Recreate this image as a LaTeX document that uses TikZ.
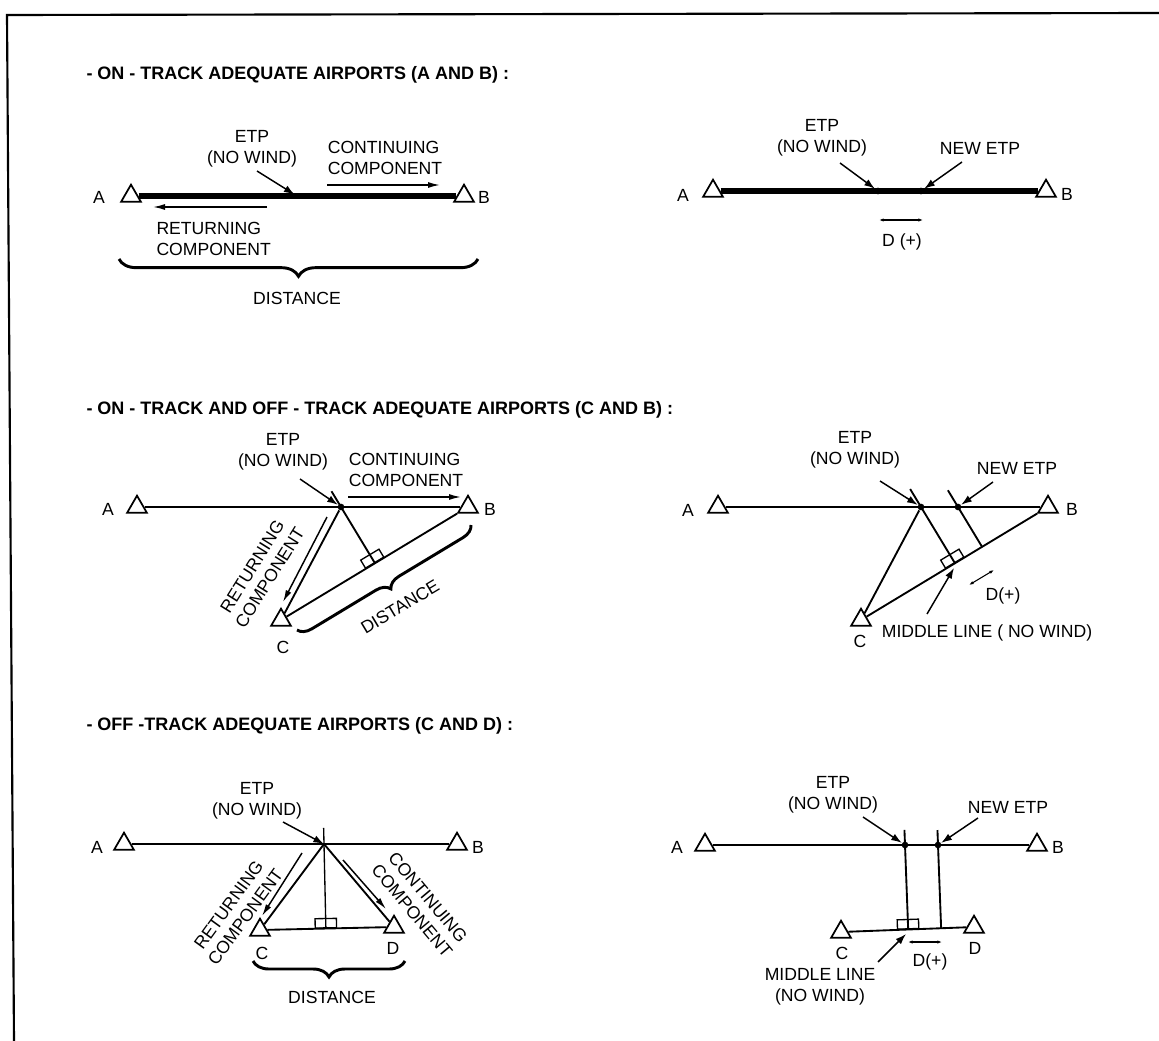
\documentclass[tikz,border=0pt]{standalone}
\usepackage{fontspec}
\setmainfont{Liberation Sans}
\usetikzlibrary{arrows.meta,calc,shapes.geometric,decorations.pathreplacing}

\tikzset{every picture/.style={line width=0.75pt}}
\tikzset{
  airport/.style={draw, regular polygon, regular polygon sides=3, minimum size=17pt, inner sep=0pt, line width=1.3pt},
  lbl/.style={inner sep=0.75pt, font=\fontsize{13.2}{15.5}\selectfont, align=center},
  ttl/.style={anchor=west, inner sep=0.75pt, font=\fontsize{13.5}{16}\selectfont\bfseries},
  pointer/.style={-{Latex[length=8pt,width=5.5pt]}, line width=1.1pt},
  comp/.style={-{Latex[length=9pt,width=4.5pt]}, line width=1.1pt},
  dplus/.style={{Latex[length=3.5pt,width=2.5pt]}-{Latex[length=3.5pt,width=2.5pt]}, line width=0.8pt},
  etpdot/.style={circle, fill, inner sep=0pt, minimum size=5pt},
  rightangle/.style={draw, rectangle, minimum width=16pt, minimum height=7pt, inner sep=0pt, anchor=south, line width=1pt},
  brc/.style={decorate, decoration={brace, amplitude=#1}, line width=2.2pt},
  track/.style={line width=1.8pt},
  leg/.style={line width=1.4pt},
}

\begin{document}
\begin{tikzpicture}[x=0.75pt,y=0.75pt,yscale=-1,xscale=1]
		\useasboundingbox (0,0) rectangle (1159,1041);
		
		%Frame
		\draw [line width=1.6pt] (14,1041) -- (7,15) -- (1159,13) ;
		
		% Text Node
		\node [ttl] (title1) at (85,75) {- ON - TRACK ADEQUATE AIRPORTS (A AND B) :};
		% Text Node
		\node [ttl] (title2) at (85,410) {- ON - TRACK AND OFF - TRACK ADEQUATE AIRPORTS (C AND B) :};
		% Text Node
		\node [ttl] (title3) at (85,726) {- OFF -TRACK ADEQUATE AIRPORTS (C AND D) :};
		
		%%% On-track, no wind
		\node [airport] (A1) at (131,196) {};
		\node [airport] (B1) at (464,196) {};
		\node [lbl] (labA1) at (99,197) {A};
		\node [lbl] (labB1) at (484,197) {B};
		\node [etpdot, minimum size=3.5pt] (E1) at (297,196) {};
		%Straight Lines
		\draw [line width=4.2pt] (A1) -- (B1) ;
		% Text Node
		\node [lbl] (etp1) at (252,149) {ETP\\(NO WIND)};
		\coordinate (p1) at (257,171);
		\draw [pointer] (p1) -- (E1) ;
		% Text Node
		\node [lbl, align=left] (cont1) at (385,158) {CONTINUING\\COMPONENT};
		\coordinate (c1s) at (327,185);
		\coordinate (c1e) at (440,185);
		\draw [comp] (c1s) -- (c1e) ;
		% Text Node
		\node [lbl, align=left, anchor=west] (ret1) at (155,239) {RETURNING\\COMPONENT};
		\coordinate (r1s) at (267,207);
		\coordinate (r1e) at (153,207);
		\draw [comp] (r1s) -- (r1e) ;
		%Brace
		\coordinate (d1s) at (478,259);
		\coordinate (d1e) at (119,259);
		\draw [brc=13pt] (d1s) -- (d1e) ;
		\node [lbl] (dist1) at (297,298) {DISTANCE};
		
		%%% On-track, with wind
		\node [airport] (A2) at (713,191) {};
		\node [airport] (B2) at (1046,191) {};
		\node [lbl] (labA2) at (683,195) {A};
		\node [lbl] (labB2) at (1067,194) {B};
		\node [etpdot] (E2) at (878,191) {};
		\node [etpdot] (N2) at (921,191) {};
		%Straight Lines
		\draw [line width=4.2pt] (A2) -- (B2) ;
		% Text Node
		\node [lbl] (etp2) at (822,138) {ETP\\(NO WIND)};
		\coordinate (p2) at (840,163);
		\draw [pointer] (p2) -- (E2) ;
		% Text Node
		\node [lbl] (netp2) at (980,148) {NEW ETP};
		\coordinate (q2) at (962,162);
		\draw [pointer] (q2) -- (N2) ;
		\coordinate (dp2s) at (879,220);
		\coordinate (dp2e) at (923,220);
		\draw [dplus] (dp2s) -- (dp2e) ;
		\node [lbl] (dplus2) at (902,242) {D (+)};
		
		%%% On- and off-track, no wind
		\node [airport] (A3) at (137,507) {};
		\node [airport] (B3) at (468,507) {};
		\node [airport] (C3) at (281,620) {};
		\node [lbl] (labA3) at (108,509) {A};
		\node [lbl] (labB3) at (490,509) {B};
		\node [lbl] (labC3) at (283,647) {C};
		\node [etpdot] (E3) at (341,507) {};
		%Straight Lines
		\draw [track] (A3) -- (B3) ;
		\draw [leg] (E3) -- (C3) ;
		\draw [leg] (C3) -- (B3) ;
		\coordinate (M3) at ($(C3)!(E3)!(B3)$);
		\draw [leg] ($(E3)!-0.28!(M3)$) -- (M3) ;
		\node [rightangle, rotate=31] (ra3) at (M3) {};
		% Text Node
		\node [lbl] (etp3) at (283,452) {ETP\\(NO WIND)};
		\coordinate (p3) at (300,479);
		\draw [pointer] (p3) -- (E3) ;
		% Text Node
		\node [lbl, align=left] (cont3) at (406,470) {CONTINUING\\COMPONENT};
		\coordinate (c3s) at (348,497);
		\coordinate (c3e) at (461,497);
		\draw [comp] (c3s) -- (c3e) ;
		% Text Node
		\node [lbl, rotate=58] (ret3) at (261,572) {RETURNING\\COMPONENT};
		\coordinate (r3s) at (327,517);
		\coordinate (r3e) at (283,602);
		\draw [comp] (r3s) -- (r3e) ;
		%Brace
		\coordinate (d3s) at (471,525);
		\coordinate (d3e) at (297,630);
		\draw [brc=10pt] (d3s) -- (d3e) ;
		\node [lbl, rotate=31] (dist3) at (400,607) {DISTANCE};
		
		%%% On- and off-track, with wind
		\node [airport] (A4) at (718,507) {};
		\node [airport] (B4) at (1048,507) {};
		\node [airport] (C4) at (861,620) {};
		\node [lbl] (labA4) at (688,510) {A};
		\node [lbl] (labB4) at (1072,509) {B};
		\node [lbl] (labC4) at (860,641) {C};
		\node [etpdot] (E4) at (921,507) {};
		\node [etpdot] (N4) at (958,507) {};
		%Straight Lines
		\draw [track] (A4) -- (B4) ;
		\draw [leg] (E4) -- (C4) ;
		\draw [leg] (C4) -- (B4) ;
		\coordinate (M4) at ($(C4)!(E4)!(B4)$);
		\coordinate (F4) at ($(C4)!(N4)!(B4)$);
		\draw [leg] ($(E4)!-0.32!(M4)$) -- (M4) ;
		\draw [leg] ($(N4)!-0.42!(F4)$) -- (F4) ;
		\node [rightangle, rotate=31] (ra4) at (M4) {};
		% Text Node
		\node [lbl] (etp4) at (855,450) {ETP\\(NO WIND)};
		\coordinate (p4) at (880,481);
		\draw [pointer] (p4) -- (E4) ;
		% Text Node
		\node [lbl] (netp4) at (1017,468) {NEW ETP};
		\coordinate (q4) at (993,482);
		\draw [pointer] (q4) -- (N4) ;
		% Text Node
		\node [lbl] (mid4) at (987,633) {MIDDLE LINE ( NO WIND)};
		\coordinate (m4s) at (927,614);
		\coordinate (m4e) at (954,568);
		\draw [pointer] (m4s) -- (m4e) ;
		\coordinate (dp4s) at (969,585);
		\coordinate (dp4e) at (994,570);
		\draw [dplus] (dp4s) -- (dp4e) ;
		\node [lbl] (dplus4) at (1003,596) {D(+)};
		
		%%% Off-track, no wind
		\node [airport] (A5) at (124,844) {};
		\node [airport] (B5) at (457,844) {};
		\node [airport] (C5) at (260,930) {};
		\node [airport] (D5) at (394,927) {};
		\node [lbl] (labA5) at (97,847) {A};
		\node [lbl] (labB5) at (478,847) {B};
		\node [lbl] (labC5) at (262,953) {C};
		\node [lbl] (labD5) at (393,948) {D};
		\coordinate (E5) at (324,844);
		%Straight Lines
		\draw [track] (A5) -- (B5) ;
		\draw [leg] (E5) -- (C5) ;
		\draw [leg] (E5) -- (D5) ;
		\draw [leg] (C5) -- (D5) ;
		\coordinate (M5) at ($(C5)!(E5)!(D5)$);
		\draw [line width=1pt] ($(E5)!-0.19!(M5)$) -- (M5) ;
		\node [rightangle, rotate=1] (ra5) at (M5) {};
		% Text Node
		\node [lbl] (etp5) at (257,801) {ETP\\(NO WIND)};
		\coordinate (p5) at (283,822);
		\draw [pointer] (p5) -- (E5) ;
		% Text Node
		\node [lbl, rotate=54] (ret5) at (237,911) {RETURNING\\COMPONENT};
		\coordinate (r5s) at (302,853);
		\coordinate (r5e) at (262,916);
		\draw [comp] (r5s) -- (r5e) ;
		% Text Node
		\node [lbl, rotate=-50] (cont5) at (420,904) {CONTINUING\\COMPONENT};
		\coordinate (c5s) at (343,860);
		\coordinate (c5e) at (386,909);
		\draw [comp] (c5s) -- (c5e) ;
		%Brace
		\coordinate (d5s) at (405,961);
		\coordinate (d5e) at (253,961);
		\draw [brc=12pt] (d5s) -- (d5e) ;
		\node [lbl] (dist5) at (332,997) {DISTANCE};
		
		%%% Off-track, with wind
		\node [airport] (A6) at (705,845) {};
		\node [airport] (B6) at (1037,845) {};
		\node [airport] (C6) at (841,932) {};
		\node [airport] (D6) at (974,927) {};
		\node [lbl] (labA6) at (677,847) {A};
		\node [lbl] (labB6) at (1058,847) {B};
		\node [lbl] (labC6) at (842,953) {C};
		\node [lbl] (labD6) at (975,948) {D};
		\node [etpdot] (E6) at (905,845) {};
		\node [etpdot] (N6) at (938,845) {};
		%Straight Lines
		\draw [track] (A6) -- (B6) ;
		\draw [leg] (C6) -- (D6) ;
		\coordinate (M6) at ($(C6)!(E6)!(D6)$);
		\coordinate (F6) at ($(C6)!(N6)!(D6)$);
		\draw [leg] ($(E6)!-0.18!(M6)$) -- (M6) ;
		\draw [leg] ($(N6)!-0.18!(F6)$) -- (F6) ;
		\node [rightangle, rotate=2] (ra6) at (M6) {};
		% Text Node
		\node [lbl] (etp6) at (833,795) {ETP\\(NO WIND)};
		\coordinate (p6) at (863,817);
		\draw [pointer] (p6) -- (E6) ;
		% Text Node
		\node [lbl] (netp6) at (1008,807) {NEW ETP};
		\coordinate (q6) at (978,818);
		\draw [pointer] (q6) -- (N6) ;
		% Text Node
		\node [lbl] (mid6) at (820,987) {MIDDLE LINE\\(NO WIND)};
		\coordinate (m6s) at (878,962);
		\coordinate (m6e) at (906,934);
		\draw [pointer] (m6s) -- (m6e) ;
		\coordinate (dp6s) at (908,942);
		\coordinate (dp6e) at (942,942);
		\draw [dplus] (dp6s) -- (dp6e) ;
		\node [lbl] (dplus6) at (930,962) {D(+)};
		
	\end{tikzpicture}
\end{document}
